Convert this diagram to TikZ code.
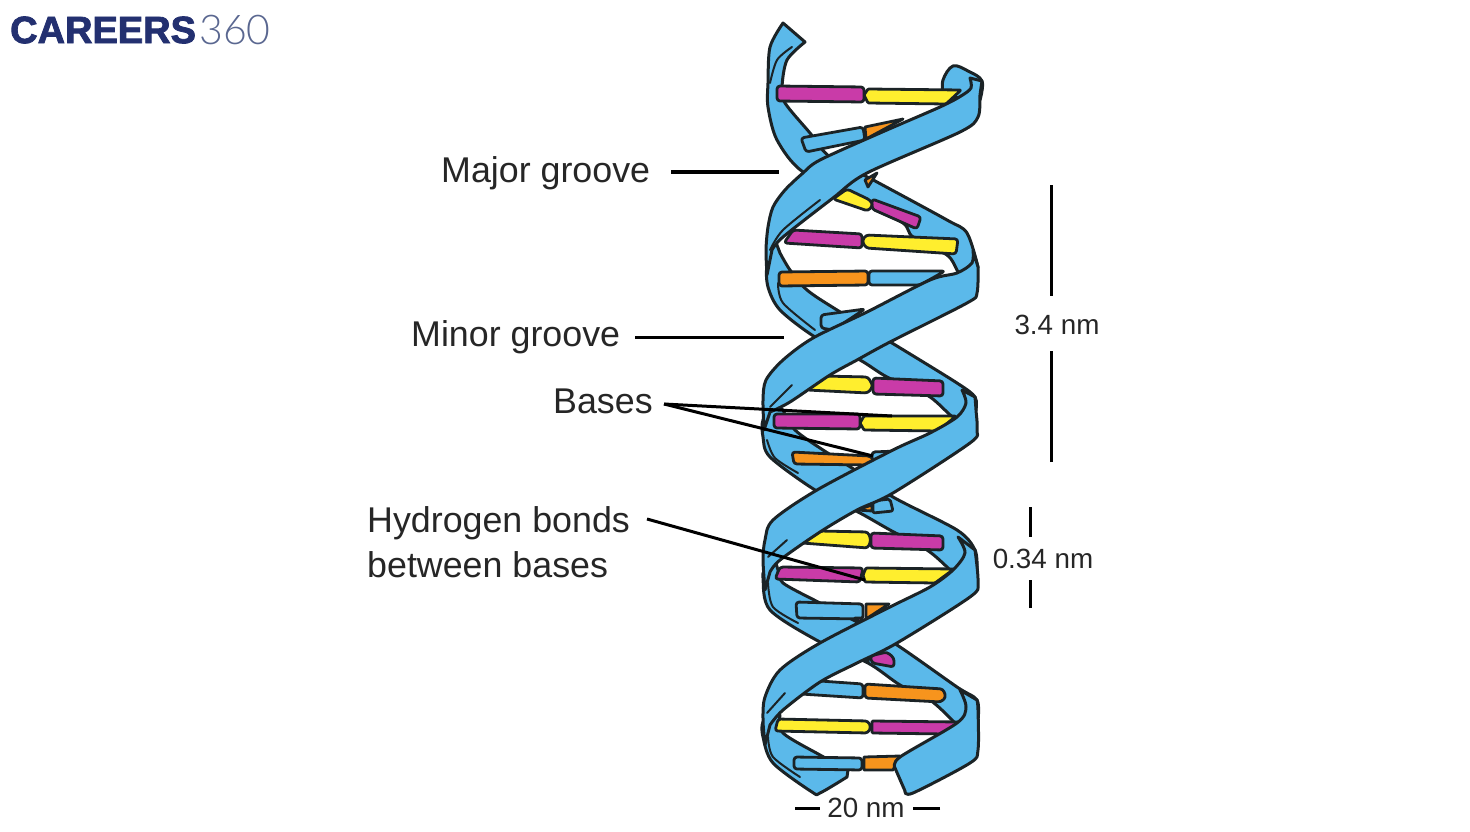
\documentclass[tikz,border=0pt]{standalone}
\usepackage{fontspec}
\setmainfont{Liberation Sans}
\newfontfamily\logobold[BoldFeatures={FakeBold=2.2}]{Liberation Sans}
\newfontfamily\logothin[UprightFont=* Light]{Lato}
\usepackage{xcolor}
\usepackage{tikz}
\usetikzlibrary{positioning,calc}
\definecolor{ribbon}{HTML}{5BB9EA}
\definecolor{outline}{HTML}{1B2326}
\definecolor{basemag}{HTML}{C93BA8}
\definecolor{baseyel}{HTML}{FFEE2E}
\definecolor{baseorg}{HTML}{F7941D}
\definecolor{textcol}{HTML}{262626}
\definecolor{logonavy}{HTML}{233070}
\definecolor{logogrey}{HTML}{5A6790}
\tikzset{
  strand/.style={draw=outline,fill=ribbon,line width=3pt,line join=round},
  fold/.style={draw=outline,line width=2pt,line cap=round},
  base/.style={draw=outline,line width=2.8pt,line join=round,rounded corners=3pt},
  leader/.style={draw=black,line width=3pt},
  wordlab/.style={inner sep=0pt,text=textcol,font=\fontsize{35.8}{42}\selectfont},
  sizelab/.style={inner sep=0pt,text=textcol,font=\fontsize{27.8}{33}\selectfont}
}
\begin{document}
\begin{tikzpicture}[x=1pt,y=-1pt]
    \useasboundingbox (0,0) rectangle (1470,832);

    % Back strands
    \draw[strand] plot[smooth,tension=.6] coordinates {(943,96) (943,80) (953,66) (968,71) (982,81) (980,100)} -- cycle;
    \draw[strand] plot[smooth,tension=.5] coordinates {(783,23) (770,47) (768,83) (768,107) (777,140) (803,172) (865,203) (903,223) (913,237) (947,255) (957,270) (965,285)}
       -- plot[smooth,tension=.5] coordinates {(978,267) (967,233) (947,220) (877,182) (830,157) (810,133) (785,103) (782,87) (787,60) (805,42)} -- cycle;
    \draw[strand] plot[smooth,tension=.5] coordinates {(775,240) (767,265) (768,287) (780,310) (815,337) (860,360) (887,377) (927,395) (948,413) (960,425)}
       -- plot[smooth,tension=.5] coordinates {(976,410) (975,397) (957,383) (892,343) (837,310) (807,290) (790,270) (780,253)} -- cycle;
    \draw[strand] plot[smooth,tension=.5] coordinates {(775,405) (763,420) (763,437) (770,457) (815,490) (860,513) (890,530) (927,550) (947,567) (960,580)}
       -- plot[smooth,tension=.5] coordinates {(977,570) (975,550) (957,530) (893,497) (855,470) (823,450) (795,430) (783,410)} -- cycle;
    \draw[strand] plot[smooth,tension=.5] coordinates {(775,560) (765,570) (763,578) (770,610) (820,642) (868,663) (900,685) (930,700) (952,720) (965,735)}
       -- plot[smooth,tension=.5] coordinates {(978,720) (977,700) (957,687) (897,645) (857,622) (818,602) (783,583) (778,570)} -- cycle;
    \draw[strand] plot[smooth,tension=.5] coordinates {(775,710) (763,722) (763,737) (773,763) (812,792) (820,793) (847,777)}
       -- plot[smooth,tension=.5] coordinates {(848,770) (820,755) (783,733) (780,715)} -- cycle;

    % Bases
    \filldraw[base,fill=basemag] (777,86) -- (864,87) -- (864,102) -- (777,101) -- cycle;
    \filldraw[base,fill=baseyel,rounded corners=1pt] (864,95) -- (868,89) -- (961,90) -- (946,104) -- (868,103) -- cycle;
    \filldraw[base,fill=ribbon] (801,138) -- (863,127) -- (865,140) -- (806,152) -- cycle;
    \filldraw[base,fill=baseorg,rounded corners=0pt] (865,127) -- (903,119) -- (866,139) -- cycle;
    \filldraw[base,fill=baseorg,rounded corners=0pt] (865,180) -- (877,173) -- (868,187) -- cycle;
    \filldraw[base,fill=basemag] (872,199) -- (921,217) -- (917,229) -- (872,209) -- cycle;
    \filldraw[base,fill=baseyel] (833,199) -- (847,189) -- (870,200) -- (873,205) -- (868,211) -- cycle;
    \filldraw[base,fill=basemag] (793,230) -- (862,234) -- (862,248) -- (784,243) -- cycle;
    \filldraw[base,fill=baseyel] (862,241) -- (866,235) -- (958,239) -- (956,254) -- (866,248) -- cycle;
    \filldraw[base,fill=ribbon] (869,271) -- (945,271) -- (920,285) -- (869,285) -- cycle;
    \filldraw[base,fill=baseorg] (779,272) -- (868,271) -- (868,285) -- (779,286) -- cycle;
    \filldraw[base,fill=ribbon] (821,315) -- (865,309) -- (833,330) -- (821,328) -- cycle;
    \filldraw[base,fill=basemag] (873,378) -- (943,381) -- (943,396) -- (873,394) -- cycle;
    \filldraw[base,fill=baseyel] (807,390) -- (822,376) -- (868,377) -- (873,386) -- (868,393) -- cycle;
    \filldraw[base,fill=basemag] (774,414) -- (860,414) -- (860,429) -- (774,428) -- cycle;
    \filldraw[base,fill=baseyel,rounded corners=1pt] (860,423) -- (864,416) -- (956,416) -- (938,431) -- (864,430) -- cycle;
    \filldraw[base,fill=ribbon] (872,452) -- (897,451) -- (872,466) -- cycle;
    \filldraw[base,fill=baseorg] (792,452) -- (870,456) -- (874,460) -- (869,465) -- (794,464) -- cycle;
    \filldraw[base,fill=baseorg,rounded corners=0pt] (857,510) -- (872,505) -- (872,511) -- cycle;
    \filldraw[base,fill=ribbon,rounded corners=2pt] (873,501) -- (890,499) -- (893,511) -- (873,513) -- cycle;
    \filldraw[base,fill=basemag] (871,533) -- (943,536) -- (943,550) -- (871,548) -- cycle;
    \filldraw[base,fill=baseyel] (802,543) -- (820,531) -- (868,532) -- (871,540) -- (868,548) -- cycle;
    \filldraw[base,fill=basemag] (780,567) -- (863,568) -- (860,582) -- (775,579) -- cycle;
    \filldraw[base,fill=baseyel,rounded corners=1pt] (863,575) -- (866,568) -- (954,569) -- (935,583) -- (865,582) -- cycle;
    \filldraw[base,fill=ribbon] (796,602) -- (863,604) -- (863,619) -- (797,618) -- cycle;
    \filldraw[base,fill=baseorg,rounded corners=0pt] (866,604) -- (889,604) -- (866,619) -- cycle;
    \filldraw[base,fill=basemag,rounded corners=0pt] (855,618) -- (862,618) -- (861,623) -- cycle;
    \filldraw[base,fill=baseyel,rounded corners=0pt] (863,658) -- (869,656) -- (868,662) -- cycle;
    \filldraw[base,fill=basemag] (870,656) -- (887,652) -- (894,658) -- (894,667) -- (872,663) -- cycle;
    \filldraw[base,fill=ribbon] (820,681) -- (863,684) -- (863,698) -- (801,694) -- cycle;
    \filldraw[base,fill=baseorg] (865,684) -- (943,689) -- (946,697) -- (941,702) -- (865,698) -- cycle;
    \filldraw[base,fill=basemag,rounded corners=1pt] (872,721) -- (959,722) -- (945,734) -- (872,733) -- cycle;
    \filldraw[base,fill=baseyel] (778,719) -- (868,721) -- (871,727) -- (868,733) -- (775,731) -- cycle;
    \filldraw[base,fill=ribbon] (794,757) -- (862,758) -- (862,770) -- (794,769) -- cycle;
    \filldraw[base,fill=baseorg,rounded corners=0pt] (864,757) -- (900,756) -- (893,770) -- (864,770) -- cycle;

    % Front strands
    \draw[strand] plot[smooth,tension=.5] coordinates {(970,78) (971,88) (961,96) (940,107) (880,133) (820,160) (803,173) (785,190) (773,207) (768,227) (766,250) (767,275)}
       -- plot[smooth,tension=.5] coordinates {(772,250) (783,237) (833,198) (867,173) (960,132) (978,117) (980,95) (982,81)} -- cycle;
    \draw[strand] plot[smooth,tension=.5] coordinates {(973,250) (972,263) (957,273) (930,280) (867,312) (813,338) (783,360) (766,380) (763,400) (764,430)}
       -- plot[smooth,tension=.5] coordinates {(770,412) (790,402) (830,375) (857,360) (890,342) (967,303) (977,293) (978,267)} -- cycle;
    \draw[strand] plot[smooth,tension=.5] coordinates {(962,390) (966,403) (957,417) (930,433) (893,450) (817,490) (773,520) (765,540) (763,560) (765,590)}
       -- plot[smooth,tension=.5] coordinates {(770,572) (780,560) (820,532) (857,510) (893,493) (970,443) (977,430) (976,410) (975,397)} -- cycle;
    \draw[strand] plot[smooth,tension=.5] coordinates {(958,537) (965,553) (953,570) (930,587) (890,607) (820,643) (780,670) (765,697) (763,720) (765,745)}
       -- plot[smooth,tension=.5] coordinates {(770,725) (783,710) (820,682) (857,663) (897,643) (970,597) (978,583) (975,550)} -- cycle;
    \draw[strand] plot[smooth,tension=.5] coordinates {(960,690) (966,707) (957,723) (900,757) (895,768)}
       -- plot[smooth,tension=.5] coordinates {(905,791) (913,793) (970,763) (978,750) (978,710) (977,700)} -- cycle;

    % Fold lines
    \draw[fold] plot[smooth] coordinates {(792,47) (777,60) (770,83)};
    \draw[fold] plot[smooth] coordinates {(820,200) (783,230) (770,250)};
    \draw[fold] plot[smooth] coordinates {(778,283) (783,303) (815,330)};
    \draw[fold] plot[smooth] coordinates {(792,385) (770,407)};
    \draw[fold] plot[smooth] coordinates {(767,440) (775,458) (798,473)};
    \draw[fold] plot[smooth] coordinates {(787,540) (768,557)};
    \draw[fold] plot[smooth] coordinates {(768,583) (773,607) (798,623)};
    \draw[fold] plot[smooth] coordinates {(785,693) (767,713)};
    \draw[fold] plot[smooth] coordinates {(768,737) (773,757) (800,777)};

    % Labels
    \node[wordlab,anchor=west] (major) at (441,173) {Major groove};
    \node[wordlab,anchor=west] (minor) at (411,337) {Minor groove};
    \node[wordlab,anchor=west] (bases) at (553,401) {Bases};
    \node[wordlab,anchor=west] (hydro) at (367,523) {Hydrogen bonds};
    \node[wordlab,anchor=west] (hydrotwo) at (367,565) {between bases};
    \node[sizelab] (threefour) at (1057,325) {3.4 nm};
    \node[sizelab] (zerothree) at (1043,559) {0.34 nm};
    \node[sizelab] (twenty) at (866,808) {20 nm};
    \node[inner sep=0pt,anchor=west,text=logonavy,font=\logobold\bfseries\fontsize{38}{40}\selectfont] (logoa) at (10,30) {CAREERS};
    \node[inner sep=0pt,anchor=west,text=logogrey,font=\logothin\fontsize{41}{44}\selectfont] (logob) at ([xshift=3pt]logoa.east) {360};

    % Leader ends
    \coordinate (major-end) at (779,172);
    \coordinate (minor-end) at (784,337);
    \coordinate (bases-fork) at (664,404);
    \coordinate (bases-top) at (892,416);
    \coordinate (bases-low) at (873,456);
    \coordinate (hydro-from) at (647,519);
    \coordinate (hydro-end) at (865,580);
    \coordinate (tf-up) at (1051,185);
    \coordinate (tf-down) at (1051,462);
    \coordinate (zt-up) at (1030,507);
    \coordinate (zt-down) at (1030,608);
    \coordinate (tw-left) at (795,808);
    \coordinate (tw-right) at (940,808);

    % Lines
    \draw[leader] ([xshift=21pt]major.east|-major-end) -- (major-end);
    \draw[leader] ([xshift=15pt]minor.east|-minor-end) -- (minor-end);
    \draw[leader] (bases-fork) -- (bases-top);
    \draw[leader] (bases-fork) -- (bases-low);
    \draw[leader] (hydro-from) -- (hydro-end);
    \draw[leader] (tf-up) -- (tf-up|-0,296);
    \draw[leader] (tf-down) -- (tf-down|-0,351);
    \draw[leader] (zt-up) -- (zt-up|-0,537);
    \draw[leader] (zt-down) -- (zt-down|-0,580);
    \draw[leader] (tw-left) -- (820,808);
    \draw[leader] (tw-right) -- (913,808);
\end{tikzpicture}
\end{document}
